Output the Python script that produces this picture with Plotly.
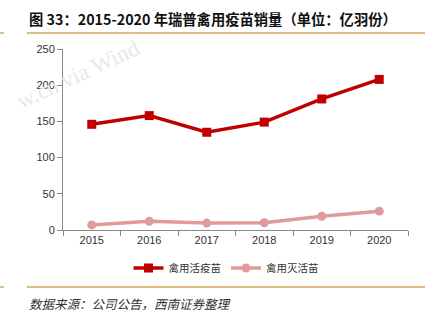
import plotly.graph_objects as go

years = ["2015", "2016", "2017", "2018", "2019", "2020"]
live_vaccine = [146, 158, 135, 149, 181, 208]
inactivated_vaccine = [7, 12, 9.5, 10, 19, 26]
y_ticks = [0, 50, 100, 150, 200, 250]

L, R, T, B = 63, 26, 49, 91
W, H = 434, 321
pw, ph = W - L - R, H - T - B

def px(x):
    return (x - L) / pw

def py(y):
    return (H - B - y) / ph

fig = go.Figure()
fig.add_trace(go.Scatter(
    x=years, y=live_vaccine, name="禽用活疫苗", mode="lines+markers",
    line=dict(color="#c00000", width=3.5),
    marker=dict(symbol="square", size=9, color="#c00000"),
))
fig.add_trace(go.Scatter(
    x=years, y=inactivated_vaccine, name="禽用灭活苗", mode="lines+markers",
    line=dict(color="#e09a9a", width=3.5),
    marker=dict(symbol="circle", size=9, color="#e09a9a"),
))

fig.update_layout(
    width=W, height=H,
    margin=dict(l=L, r=R, t=T, b=B),
    paper_bgcolor="white", plot_bgcolor="white",
    font=dict(family="Liberation Sans, Arial, sans-serif", size=11, color="#333333"),
    showlegend=True,
    legend=dict(orientation="h", x=px(226), xanchor="center", y=py(268), yanchor="middle",
                font=dict(family="Noto Sans CJK SC", size=10.5, color="#333333"),
                itemwidth=30, traceorder="normal"),
    xaxis=dict(type="category", range=[-0.5, 5.5], showline=True, linecolor="#888888",
               linewidth=1, ticks="outside", tickson="boundaries", ticklen=5,
               tickcolor="#888888", showgrid=False, zeroline=False,
               tickfont=dict(size=11, color="#333333")),
    yaxis=dict(range=[0, 250], tickvals=y_ticks, showline=True, linecolor="#888888",
               linewidth=1, ticks="outside", ticklen=5, tickcolor="#888888",
               showgrid=False, zeroline=False, tickfont=dict(size=11, color="#333333")),
)

line_color = "#d9a45f"
fig.add_shape(type="line", xref="paper", yref="paper", x0=px(27), x1=px(425),
              y0=py(33), y1=py(33), line=dict(color=line_color, width=1.5))
fig.add_shape(type="line", xref="paper", yref="paper", x0=px(0), x1=px(4),
              y0=py(33), y1=py(33), line=dict(color=line_color, width=1.5))
fig.add_shape(type="line", xref="paper", yref="paper", x0=px(27), x1=px(425),
              y0=py(287), y1=py(287), line=dict(color=line_color, width=1.5))
fig.add_shape(type="line", xref="paper", yref="paper", x0=px(0), x1=px(4),
              y0=py(287), y1=py(287), line=dict(color=line_color, width=1.5))

fig.add_annotation(xref="paper", yref="paper", x=px(27), y=py(19), xanchor="left",
                   yanchor="middle", showarrow=False,
                   text="<b>图 33：2015-2020 年瑞普禽用疫苗销量（单位：亿羽份）</b>",
                   font=dict(family="Noto Sans CJK SC", size=14.3, color="#111111"))
fig.add_annotation(xref="paper", yref="paper", x=px(27), y=py(303), xanchor="left",
                   yanchor="middle", showarrow=False,
                   text="<i>数据来源：公司公告，西南证券整理</i>",
                   font=dict(family="Noto Sans CJK SC", size=12.5, color="#333333"))
fig.add_annotation(xref="paper", yref="paper", x=px(78), y=py(74), xanchor="center",
                   yanchor="middle", showarrow=False, textangle=-25,
                   text="w.cn via Wind",
                   font=dict(family="Liberation Serif", size=23, color="#e8e8e8"))

fig.write_html("out.html")
